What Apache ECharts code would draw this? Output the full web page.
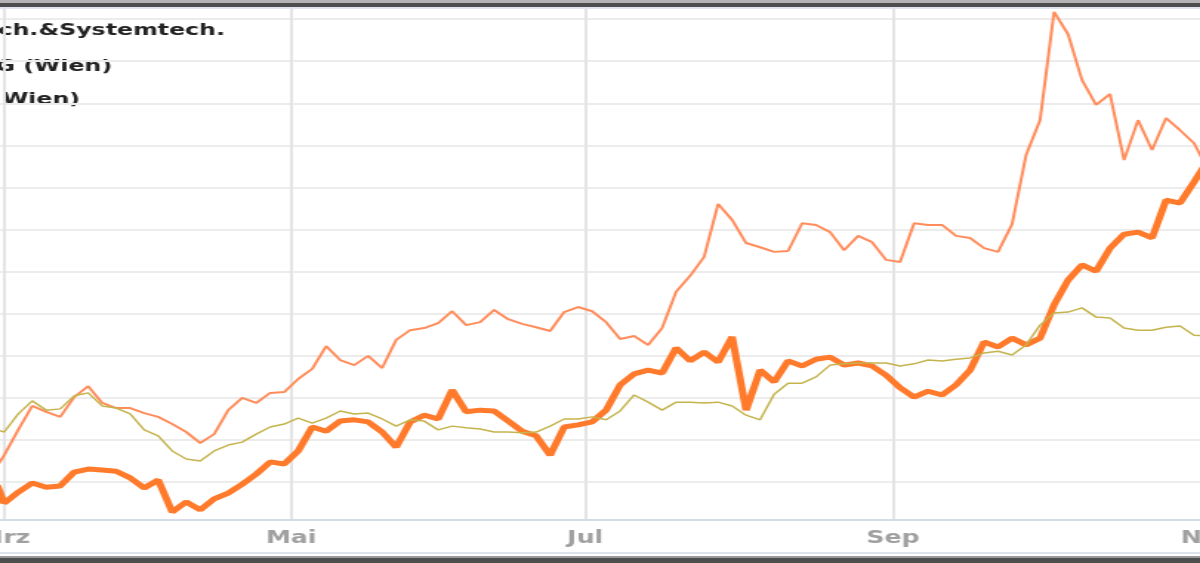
<!DOCTYPE html>
<html>
<head>
<meta charset="utf-8">
<title>Chart</title>
<script src="https://cdn.jsdelivr.net/npm/echarts@6.0.0/dist/echarts.min.js"></script>
<style>
	html, body { margin: 0; padding: 0; background: #fff; overflow: hidden; }
	#stage { position: relative; width: 1200px; height: 563px; overflow: hidden; }
	/* the source picture is a screenshot stretched sideways, so the chart is drawn narrow and scaled */
	#chart { position: absolute; left: 0; top: 0; width: 811px; height: 563px; transform: scaleX(1.4797); transform-origin: 0 0; }
	.edge { position: absolute; left: 0; width: 1200px; }
</style>
</head>
<body>
<div id="stage">
	<div id="chart"></div>
	<div class="edge" style="top:0;height:3px;background:#b4b4b4"></div>
	<div class="edge" style="top:3px;height:4px;background:#4d4d4d"></div>
	<div class="edge" style="top:7px;height:2px;background:#dfe4ee"></div>
	<div class="edge" style="top:552px;height:2px;background:#dde2ec"></div>
	<div class="edge" style="top:556px;height:2px;background:#9a9a9a"></div>
	<div class="edge" style="top:558px;height:5px;background:#4d4d4d"></div>
</div>
<script>
// trading day index, 0 = first trading day of Mrz
const tradingDay = [-1, 0, 2, 4, 6, 8, 10, 12, 14, 16, 18, 20, 22, 24, 26, 28, 30, 32, 34, 36, 38, 40,
	42, 44, 46, 48, 50, 52, 54, 56, 58, 60, 62, 64, 66, 68, 70, 72, 74, 76, 78, 80, 82, 84, 86,
	88, 90, 92, 94, 96, 98, 100, 102, 104, 106, 108, 110, 112, 114, 116, 118, 120, 122, 124, 126,
	128, 130, 132, 134, 136, 138, 140, 142, 144, 146, 148, 150, 152, 154, 156, 158, 160, 162, 164,
	166, 168, 170, 172]

const monthStart = [0, 41, 83, 127, 172]
const monthName = ['Mrz', 'Mai', 'Jul', 'Sep', 'Nov']

// performance in %
const gridLevels = [-10, 0, 10, 20, 30, 40, 50, 60, 70, 80, 90, 100]

const atsValues = [-10.7, -15.0, -12.4, -10.2, -11.2, -10.9, -7.6, -6.9, -7.1, -7.4, -9.0, -11.4, -9.5,
	-17.1, -14.7, -16.6, -14.0, -12.6, -10.5, -8.1, -5.2, -5.7, -2.6, 3.1, 2.1, 4.5, 4.8, 4.3, 1.9,
	-1.7, 4.3, 5.9, 5.0, 11.9, 6.7, 7.1, 6.9, 4.5, 2.1, 1.0, -3.6, 3.1, 3.6, 4.3, 7.1, 13.1, 15.7,
	16.6, 15.9, 21.9, 18.8, 20.9, 18.5, 24.5, 7.1, 16.6, 13.8, 18.8, 17.6, 19.2, 19.7, 17.8, 18.3,
	17.6, 15.4, 12.4, 10.2, 11.6, 10.7, 13.1, 16.6, 23.3, 22.1, 24.2, 22.6, 24.2, 32.1, 38.0, 41.6,
	40.1, 45.6, 48.9, 49.4, 48.0, 57.0, 56.3, 61.3, 66.5]

const stValues = [-6.2, -3.6, 2.4, 8.1, 6.7, 5.5, 10.2, 12.8, 8.8, 7.6, 7.6, 6.4, 5.5, 3.8, 1.9, -0.7,
	1.4, 7.1, 10.0, 8.8, 11.2, 11.4, 14.5, 16.9, 22.3, 19.0, 17.8, 20.0, 17.1, 23.8, 26.1, 26.6,
	27.8, 30.6, 27.3, 28.0, 30.9, 28.7, 27.6, 26.8, 25.9, 30.4, 31.6, 30.6, 28.0, 24.0, 24.7, 22.6,
	26.6, 35.2, 39.0, 43.5, 56.1, 52.3, 46.8, 45.8, 44.7, 44.9, 51.5, 51.1, 49.4, 45.1, 48.5, 47.0,
	42.8, 42.3, 51.5, 51.1, 51.1, 48.5, 48.0, 45.6, 44.7, 51.3, 67.7, 76.0, 101.7, 96.4, 85.5, 79.6,
	82.2, 66.5, 76.0, 68.9, 76.5, 73.6, 70.5, 64.1]

const atxValues = [2.4, 1.9, 6.2, 9.3, 7.1, 7.4, 10.5, 11.2, 8.1, 7.6, 6.2, 2.4, 1.0, -2.6, -4.5, -5.0,
	-2.6, -1.2, -0.5, 1.4, 3.1, 3.8, 5.2, 4.0, 5.2, 6.9, 6.2, 6.4, 5.0, 3.3, 4.8, 4.5, 2.4, 3.3, 2.9,
	2.6, 1.9, 1.9, 1.7, 1.9, 3.3, 5.0, 5.0, 5.5, 4.8, 6.9, 10.7, 9.0, 7.1, 9.0, 9.0, 8.8, 9.0, 8.1,
	5.9, 4.8, 10.9, 13.5, 13.5, 15.0, 17.8, 18.1, 18.3, 18.3, 18.3, 17.6, 18.1, 19.0, 18.8, 19.2,
	19.5, 20.7, 21.1, 20.2, 22.6, 27.3, 30.2, 30.4, 31.4, 29.2, 29.0, 26.6, 26.1, 26.1, 26.8, 27.1,
	24.9, 24.7]

const seriesNames = ['AT&S Austria Tech.&Systemtech.', 'S&T AG (Wien)', 'ATX (Wien)']

function pairs(values) {
	return tradingDay.map((d, i) => [d, values[i]])
}

const chart = echarts.init(document.getElementById('chart'))

// legend text ends, in unscaled chart pixels (legend symbols lie outside the crop)
const legendEnd = [152, 75.7, 54.1]
const legendRow = [31, 67, 100]

chart.setOption({
	animation: false,
	backgroundColor: '#fff',
	grid: {
		left: 0,
		right: -5.4,
		top: 9,
		bottom: 43,
		outerBoundsMode: 'none',
	},
	xAxis: {
		type: 'value',
		min: -0.6,
		max: 172,
		axisLine: { show: true, onZero: false, lineStyle: { color: '#d6dce7', width: 2 } },
		axisTick: { show: false, customValues: monthStart },
		axisLabel: {
			customValues: monthStart,
			formatter: function(v) {
				return monthName[monthStart.indexOf(v)]
			},
			color: '#a0a0a0',
			fontSize: 17,
			fontWeight: 'bold',
			fontFamily: 'DejaVu Sans',
			margin: 10,
		},
		splitLine: { show: true, lineStyle: { color: '#e4e4e4', width: 2 } },
	},
	yAxis: {
		type: 'value',
		min: -19,
		max: 102.4,
		axisLine: { show: false },
		axisLabel: { show: false, customValues: gridLevels },
		axisTick: { show: false, customValues: gridLevels },
		splitLine: { show: true, lineStyle: { color: '#ececec', width: 2 } },
	},
	graphic: seriesNames.map(function(name, i) {
		return {
			type: 'text',
			x: legendEnd[i],
			y: legendRow[i],
			silent: true,
			style: {
				text: name,
				fill: '#222',
				font: 'bold 16px "DejaVu Sans"',
				align: 'right',
				verticalAlign: 'middle',
			},
		}
	}),
	series: [
		{
			name: seriesNames[1],
			type: 'line',
			data: pairs(stValues),
			symbol: 'none',
			lineStyle: { color: '#ff8d5c', width: 2 },
		},
		{
			name: seriesNames[0],
			type: 'line',
			data: pairs(atsValues),
			symbol: 'none',
			lineStyle: { color: '#ff7a2b', width: 5 },
		},
		{
			name: seriesNames[2],
			type: 'line',
			data: pairs(atxValues),
			symbol: 'none',
			lineStyle: { color: '#c5b44d', width: 1.5 },
		},
	],
})
</script>
</body>
</html>
